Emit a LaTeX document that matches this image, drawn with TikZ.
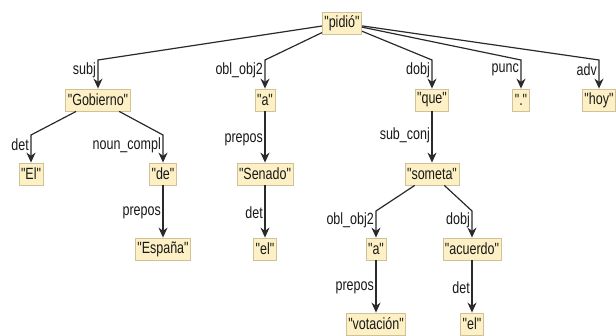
\documentclass[tikz,border=0pt]{standalone}
\usepackage{fontspec}
\newfontfamily\lsans{Liberation Sans}
\usetikzlibrary{arrows.meta}
\definecolor{boxfill}{HTML}{FCF0C4}
\definecolor{boxline}{HTML}{CFC29A}
\definecolor{edgecol}{HTML}{2A2A2A}
\newcommand\vs[1]{\scalebox{1}[1.3]{#1}}
\tikzset{
  word/.style={draw=boxline, fill=boxfill, line width=0.8pt, inner xsep=2pt, inner ysep=0pt,
    minimum height=22pt, font=\lsans\fontsize{12.5}{15}\selectfont, text=black!90},
  rel/.style={anchor=east, inner sep=1pt, font=\lsans\fontsize{12.5}{15}\selectfont, text=black!90},
  dep/.style={draw=edgecol, line width=1.2pt, -{Stealth[length=10pt,width=9pt]}},
}
\begin{document}
\begin{tikzpicture}[x=1pt,y=-1pt]
\useasboundingbox (0,0) rectangle (616,336);
\clip (0,0) rectangle (616,336);
% words
\node[word] (pidio) at (342,23) {\vs{"pidió"}};
\node[word] (gob) at (98,100) {\vs{"Gobierno"}};
\node[word] (a1) at (265,100) {\vs{"a"}};
\node[word] (que) at (432,100) {\vs{"que"}};
\node[word] (punc) at (521,100) {\vs{"."}};
\node[word] (hoy) at (599,100) {\vs{"hoy"}};
\node[word] (el1) at (31,174) {\vs{"El"}};
\node[word] (de) at (163,174) {\vs{"de"}};
\node[word] (senado) at (265,174) {\vs{"Senado"}};
\node[word] (someta) at (432,174) {\vs{"someta"}};
\node[word] (espana) at (163,249) {\vs{"España"}};
\node[word] (el2) at (265,249) {\vs{"el"}};
\node[word] (a2) at (376,249) {\vs{"a"}};
\node[word] (acuerdo) at (472,249) {\vs{"acuerdo"}};
\node[word] (votacion) at (376,324) {\vs{"votación"}};
\node[word] (el3) at (472,324) {\vs{"el"}};
% bend points
\coordinate (bsubj) at (98,60);
\coordinate (bobl) at (265,60);
\coordinate (bdobj) at (432,60);
\coordinate (bpunc) at (521,60);
\coordinate (badv) at (599,60);
\coordinate (bdet) at (31,135);
\coordinate (bnc) at (163,135);
\coordinate (bobl2) at (376,211);
\coordinate (bdobj2) at (472,211);
% edges
\draw[dep] (pidio) -- (bsubj) -- (gob);
\draw[dep] (pidio) -- (bobl) -- (a1);
\draw[dep] (pidio) -- (bdobj) -- (que);
\draw[dep] (pidio) -- (bpunc) -- (punc);
\draw[dep] (pidio) -- (badv) -- (hoy);
\draw[dep] (gob) -- (bdet) -- (el1);
\draw[dep] (gob) -- (bnc) -- (de);
\draw[dep] (a1) -- (senado);
\draw[dep] (que) -- (someta);
\draw[dep] (de) -- (espana);
\draw[dep] (senado) -- (el2);
\draw[dep] (someta) -- (bobl2) -- (a2);
\draw[dep] (someta) -- (bdobj2) -- (acuerdo);
\draw[dep] (a2) -- (votacion);
\draw[dep] (acuerdo) -- (el3);
% labels
\node[rel] (lsubj) at (97,70) {\vs{subj}};
\node[rel] (lobl) at (264,70) {\vs{obl\_obj2}};
\node[rel] (ldobj) at (431,70) {\vs{dobj}};
\node[rel] (lpunc) at (520,70) {\vs{punc}};
\node[rel] (ladv) at (598,70) {\vs{adv}};
\node[rel] (ldet) at (30,145) {\vs{det}};
\node[rel] (lnc) at (162,145) {\vs{noun\_compl}};
\node[rel] (lprep1) at (264,140) {\vs{prepos}};
\node[rel] (lsub) at (431,135) {\vs{sub\_conj}};
\node[rel] (lprep2) at (162,213) {\vs{prepos}};
\node[rel] (ldet2) at (264,213) {\vs{det}};
\node[rel] (lobl2) at (375,220) {\vs{obl\_obj2}};
\node[rel] (ldobj2) at (471,220) {\vs{dobj}};
\node[rel] (lprep3) at (375,288) {\vs{prepos}};
\node[rel] (ldet3) at (471,288) {\vs{det}};
\end{tikzpicture}
\end{document}
